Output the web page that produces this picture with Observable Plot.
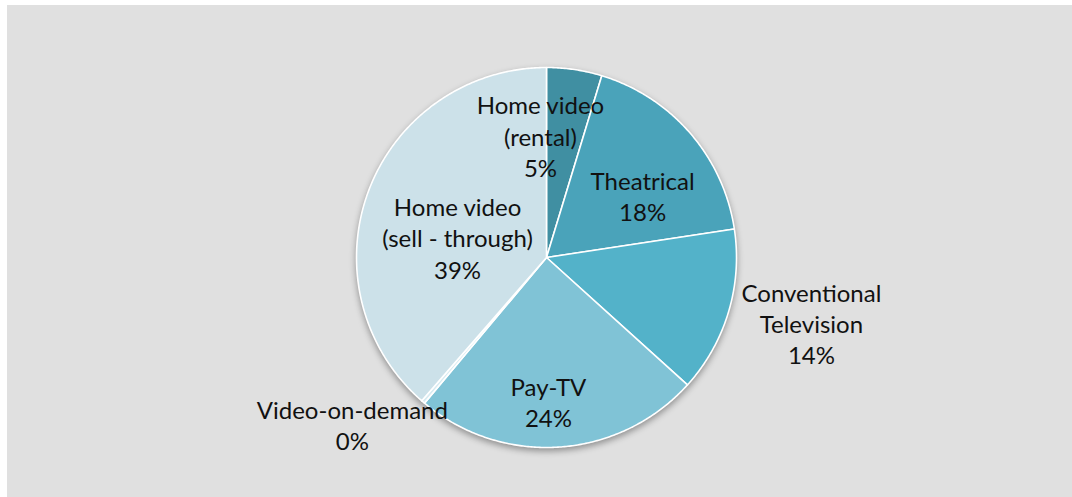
<!DOCTYPE html>
<html><head><meta charset="utf-8">
<script src="https://cdn.jsdelivr.net/npm/d3@7"></script>
<script src="https://cdn.jsdelivr.net/npm/@observablehq/plot@0.6"></script>
<style>
body{margin:0;background:#fff;}
#frame{position:absolute;left:7px;top:5px;width:1065px;height:492px;background:#e0e0e0;}
#frame svg{display:block;}
</style></head><body><div id="frame"></div>
<script>
// ---- data ----
const categories = ["Home video (rental)", "Theatrical", "Conventional Television", "Pay-TV", "Video-on-demand", "Home video (sell - through)"];
const shares = [4.7, 17.9, 14.1, 24.4, 0.3, 38.6];
const percentLabels = ["5%", "18%", "14%", "24%", "0%", "39%"];
const labelNames = ["Home video\n(rental)", "Theatrical", "Conventional\nTelevision", "Pay-TV", "Video-on-demand", "Home video\n(sell - through)"];

// ---- style / layout ----
const colors = ["#408fa2", "#4aa3ba", "#53b2c9", "#80c3d6", "#d8ebf1", "#cce1e9"];
const labelRadius = [0.642, 0.602, 1.436, 0.758, 1.348, 0.48];
const labelNudgeDeg = [-11.3, 8, -2.9, 3.2, 8.8, -7.8];

const W = 1065, H = 492, CX = 539, CY = 252, R = 190;

const rows = categories.map((c, i) => ({category: c, value: shares[i], i}));
const arcs = d3.pie().sort(null).value(d => d.value)(rows);

// polygon vertices for each slice (unit circle coords, angle clockwise from top)
const slicePts = [];
for (const a of arcs) {
  const c = a.data.category;
  slicePts.push({category: c, x: 0, y: 0});
  const n = Math.max(2, Math.ceil((a.endAngle - a.startAngle) / (Math.PI / 360)));
  for (let k = 0; k <= n; k++) {
    const t = a.startAngle + (a.endAngle - a.startAngle) * k / n;
    slicePts.push({category: c, x: Math.sin(t), y: Math.cos(t)});
  }
  slicePts.push({category: c, x: 0, y: 0});
}

const labels = arcs.map(a => {
  const i = a.data.i;
  const mid = (a.startAngle + a.endAngle) / 2 + labelNudgeDeg[i] * Math.PI / 180;
  return {x: labelRadius[i] * Math.sin(mid), y: labelRadius[i] * Math.cos(mid),
          text: labelNames[i] + "\n" + percentLabels[i]};
});

const chart = Plot.plot({
  width: W, height: H,
  margin: 0,
  style: {background: "transparent", fontFamily: "Lato, 'Open Sans', sans-serif"},
  x: {domain: [-1, 1], range: [CX - R, CX + R], axis: null},
  y: {domain: [-1, 1], range: [CY + R, CY - R], axis: null},
  color: {domain: categories, range: colors},
  marks: [
    Plot.line(slicePts, {x: "x", y: "y", z: "category", fill: "category", stroke: "white", strokeWidth: 1.6, strokeLinejoin: "round"}),
    Plot.text(labels, {x: "x", y: "y", text: "text", fontSize: 24, lineHeight: 1.3, fill: "#111", textAnchor: "middle", lineAnchor: "middle"})
  ]
});
document.getElementById("frame").appendChild(chart);
const g = chart.querySelector('g[aria-label="line"]');
if (g) g.style.filter = "drop-shadow(0px 3px 3px rgba(0,0,0,0.35))";
</script>
</body></html>
